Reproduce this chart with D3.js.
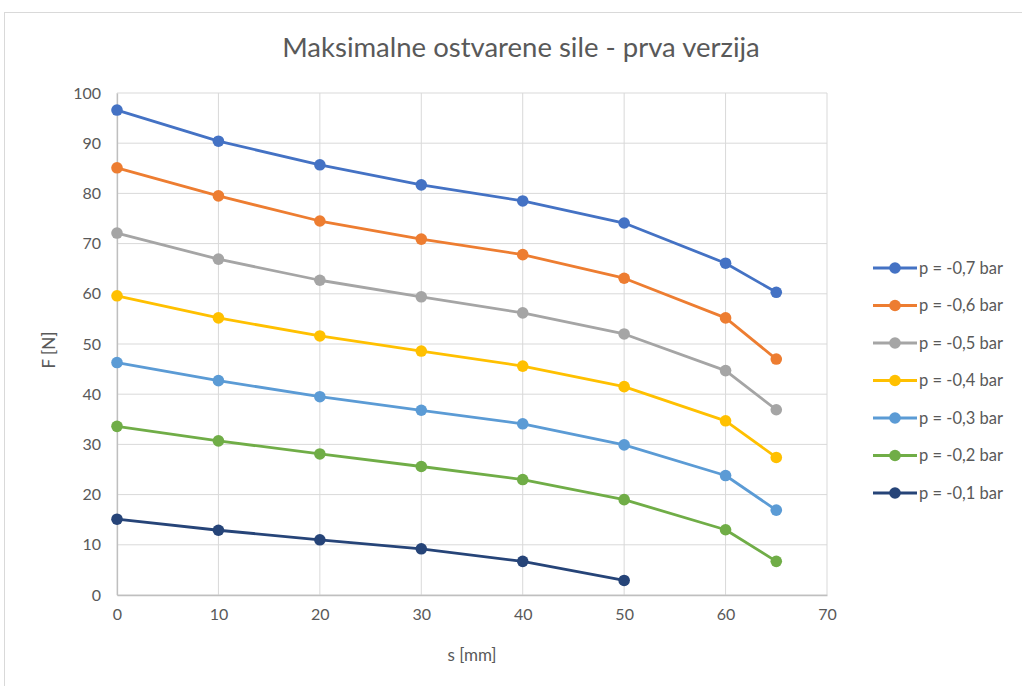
<!DOCTYPE html>
<html><head><meta charset="utf-8">
<script src="https://cdn.jsdelivr.net/npm/d3@7"></script>
<style>body{margin:0;background:#fff}svg{display:block}text{font-family:Lato,"Open Sans",sans-serif}</style>
</head><body>
<script>
const xValues = [0, 10, 20, 30, 40, 50, 60, 65];
const seriesNames = ["p = -0,7 bar","p = -0,6 bar","p = -0,5 bar","p = -0,4 bar","p = -0,3 bar","p = -0,2 bar","p = -0,1 bar"];
const seriesColors = ["#4472c4","#ed7d31","#a5a5a5","#ffc000","#5b9bd5","#70ad47","#264478"];
const p07 = [96.6, 90.4, 85.7, 81.7, 78.5, 74.1, 66.1, 60.3];
const p06 = [85.1, 79.5, 74.5, 70.9, 67.8, 63.1, 55.2, 47.0];
const p05 = [72.1, 66.9, 62.7, 59.4, 56.2, 52.0, 44.7, 36.9];
const p04 = [59.6, 55.2, 51.6, 48.6, 45.6, 41.5, 34.7, 27.4];
const p03 = [46.3, 42.7, 39.5, 36.8, 34.1, 29.9, 23.8, 16.9];
const p02 = [33.6, 30.7, 28.1, 25.6, 23.0, 19.0, 13.0, 6.7];
const p01 = [15.1, 12.9, 11.0, 9.2, 6.7, 2.9];
const xTicks = [0,10,20,30,40,50,60,70];
const yTicks = [0,10,20,30,40,50,60,70,80,90,100];
const allSeries = [p07,p06,p05,p04,p03,p02,p01];

const W=1022,H=686;
const svg=d3.select("body").append("svg").attr("width",W).attr("height",H);
svg.append("rect").attr("x",4.5).attr("y",12.5).attr("width",1040).attr("height",700).attr("fill","#fff").attr("stroke","#d9d9d9");

const x=d3.scaleLinear().domain([0,70]).range([117,827]);
const y=d3.scaleLinear().domain([0,100]).range([595,93]);
const g=svg.append("g");
g.selectAll(".gy").data(yTicks).join("line").attr("x1",x(0)).attr("x2",x(70)).attr("y1",d=>y(d)).attr("y2",d=>y(d)).attr("stroke","#d9d9d9").attr("stroke-width",1);
g.selectAll(".gx").data(xTicks).join("line").attr("y1",y(0)).attr("y2",y(100)).attr("x1",d=>x(d)).attr("x2",d=>x(d)).attr("stroke","#d9d9d9").attr("stroke-width",1);
const xa=svg.append("g").attr("transform",`translate(0,${y(0)})`).call(d3.axisBottom(x).tickValues(xTicks).tickSize(0).tickPadding(14));
const ya=svg.append("g").attr("transform",`translate(${x(0)},0)`).call(d3.axisLeft(y).tickValues(yTicks).tickSize(0).tickPadding(16));
[xa,ya].forEach(a=>{a.select(".domain").attr("stroke","#bfbfbf").attr("stroke-width",1.3);a.selectAll("text").attr("font-size",16).attr("fill","#595959").style("font-family","Lato,sans-serif");});
xa.selectAll("text").attr("dy","0.71em");

const line=d3.line().x((d,i)=>x(xValues[i])).y(d=>y(d));
allSeries.forEach((s,k)=>{
  svg.append("path").datum(s).attr("d",line).attr("fill","none").attr("stroke",seriesColors[k]).attr("stroke-width",2.8).attr("stroke-linejoin","round");
  svg.selectAll(null).data(s).join("circle").attr("cx",(d,i)=>x(xValues[i])).attr("cy",d=>y(d)).attr("r",5.8).attr("fill",seriesColors[k]);
});

svg.append("text").attr("x",521).attr("y",57).attr("text-anchor","middle").attr("font-size",27.5).attr("fill","#595959").text("Maksimalne ostvarene sile - prva verzija");
svg.append("text").attr("x",472).attr("y",661).attr("text-anchor","middle").attr("font-size",17).attr("fill","#595959").text("s [mm]");
svg.append("text").attr("transform","translate(55,350) rotate(-90)").attr("text-anchor","middle").attr("font-size",17).attr("fill","#595959").text("F [N]");

const lg=svg.append("g");
seriesNames.forEach((n,k)=>{
  const yy=268+k*37.5;
  lg.append("line").attr("x1",873).attr("x2",917).attr("y1",yy).attr("y2",yy).attr("stroke",seriesColors[k]).attr("stroke-width",2.8);
  lg.append("circle").attr("cx",895).attr("cy",yy).attr("r",5.8).attr("fill",seriesColors[k]);
  lg.append("text").attr("x",919).attr("y",yy).attr("dy","0.35em").attr("font-size",16.5).attr("fill","#595959").text(n);
});
</script>
</body></html>
